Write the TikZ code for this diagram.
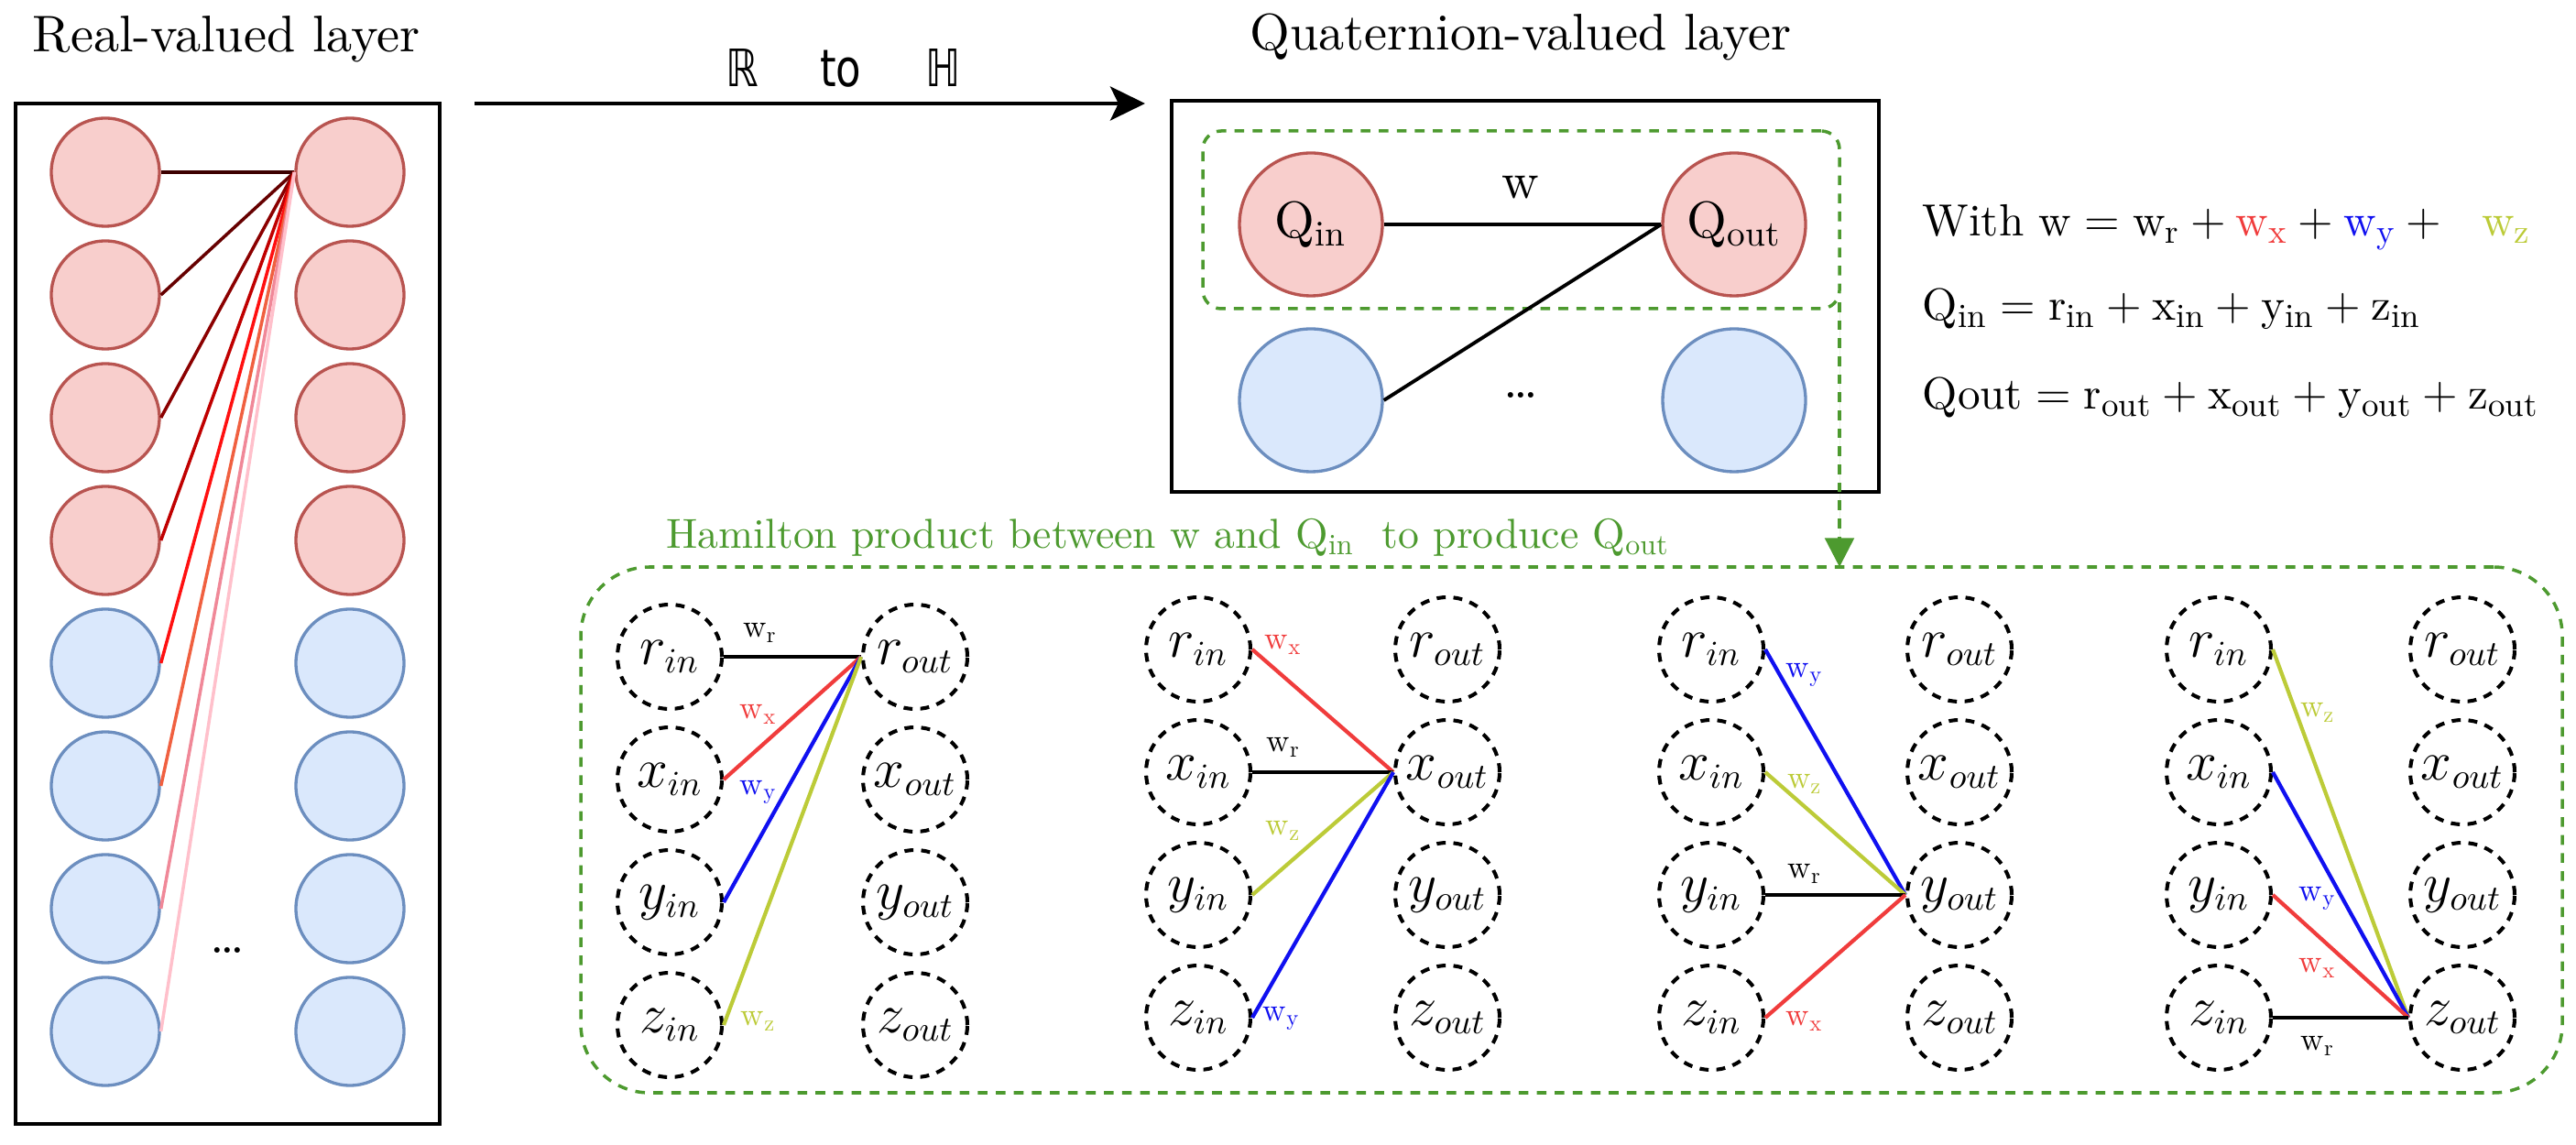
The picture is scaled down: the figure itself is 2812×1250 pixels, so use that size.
\documentclass[tikz,border=0pt]{standalone}
\usepackage{fontspec}
\setmainfont{lmroman10}[Extension=.otf, UprightFont=*-regular, ItalicFont=*-italic, BoldFont=*-bold, BoldItalicFont=*-bolditalic]
\usepackage{xcolor}
\usetikzlibrary{arrows.meta}
\DeclareMathSizes{14}{14}{10.5}{8}
\newfontfamily\djv[FakeStretch=0.8]{DejaVu Sans}
\definecolor{pinkfill}{HTML}{F8CECC}
\definecolor{pinkdraw}{HTML}{B85450}
\definecolor{bluefill}{HTML}{DAE8FC}
\definecolor{bluedraw}{HTML}{6C8EBF}
\definecolor{grn}{HTML}{4D9A2F}
\definecolor{wred}{HTML}{F03C3C}
\definecolor{wblue}{HTML}{1010F0}
\definecolor{wyel}{HTML}{BCCB38}
\definecolor{lc1}{HTML}{3D0000}
\definecolor{lc2}{HTML}{660000}
\definecolor{lc3}{HTML}{8B0000}
\definecolor{lc4}{HTML}{C00000}
\definecolor{lc5}{HTML}{FF1010}
\definecolor{lc6}{HTML}{F06040}
\definecolor{lc7}{HTML}{F08898}
\definecolor{lc8}{HTML}{FFC0CB}
\tikzset{
  rnode/.style={circle, minimum size=11.8mm, inner sep=0pt, fill=pinkfill, draw=pinkdraw, line width=0.95pt},
  bnode/.style={circle, minimum size=11.8mm, inner sep=0pt, fill=bluefill, draw=bluedraw, line width=0.95pt},
  qrnode/.style={rnode, minimum size=15.6mm, font=\fontsize{16}{19}\selectfont},
  qbnode/.style={bnode, minimum size=15.6mm},
  hnode/.style={circle, minimum size=11.4mm, inner sep=0pt, draw=black, line width=1.15pt, dash pattern=on 2.8pt off 2.4pt, font=\fontsize{16}{19}\selectfont},
  conn/.style={line width=1.2pt},
  lconn/.style={line width=1pt},
  elab/.style={font=\fontsize{10}{12}\selectfont, inner sep=1pt},
  title/.style={font=\fontsize{16}{19}\selectfont, anchor=base},
  eqn/.style={font=\fontsize{14}{17}\selectfont, anchor=base west, inner sep=0pt},
  gdash/.style={draw=grn, line width=1pt, dash pattern=on 3pt off 2.6pt},
}
\begin{document}
\begin{tikzpicture}[x=0.1mm, y=-0.1mm]
\useasboundingbox (0,0) rectangle (2812,1250);

% ---------- Real-valued layer ----------
\node[title] (ttlR) at (247,57) {Real-valued layer};
\node[draw, line width=1.4pt, minimum width=46.3mm, minimum height=111.4mm, inner sep=0pt] (lbox) at (248.5,670) {};
\foreach \k in {0,1,2,3} {
  \node[rnode] (L\k) at (115,188+134*\k) {};
  \node[rnode] (R\k) at (382,188+134*\k) {};
}
\foreach \k in {4,5,6,7} {
  \node[bnode] (L\k) at (115,188+134*\k) {};
  \node[bnode] (R\k) at (382,188+134*\k) {};
}
\node[font=\fontsize{16}{19}\selectfont] (ldots) at (248,1038) {\ldots};
\draw[lconn, lc1] (L0.east) -- (R0.west);
\draw[lconn, lc2] (L1.east) -- (R0.west);
\draw[lconn, lc3] (L2.east) -- (R0.west);
\draw[lconn, lc4] (L3.east) -- (R0.west);
\draw[lconn, lc5] (L4.east) -- (R0.west);
\draw[lconn, lc6] (L5.east) -- (R0.west);
\draw[lconn, lc7] (L6.east) -- (R0.west);
\draw[lconn, lc8] (L7.east) -- (R0.west);

% ---------- main arrow ----------
\coordinate (arS) at (518,113);
\coordinate (arE) at (1250,113);
\draw[line width=1.3pt, -{Stealth[length=10.8pt, width=10.5pt, inset=2.5pt]}] (arS) -- (arE);
\node[font=\djv\fontsize{16}{18}\selectfont, anchor=base] (arlab) at (921,95) {ℝ\hspace{19pt}to\hspace{20pt}ℍ};

% ---------- Quaternion-valued layer ----------
\node[title] (ttlQ) at (1660,55) {Quaternion-valued layer};
\node[draw, line width=1.4pt, minimum width=77.2mm, minimum height=42.7mm, inner sep=0pt] (qbox) at (1665,323.5) {};
\node[gdash, rounded corners=2mm, minimum width=69.5mm, minimum height=19.4mm, inner sep=0pt] (grect) at (1660.5,240) {};
\node[qrnode] (qin) at (1431,245) {$\mathrm{Q_{in}}$};
\node[qrnode] (qout) at (1893,245) {$\mathrm{Q_{out}}$};
\node[qbnode] (qb1) at (1431,437) {};
\node[qbnode] (qb2) at (1893,437) {};
\draw[line width=1.1pt] (qin.east) -- (qout.west);
\draw[line width=1.1pt] (qb1.east) -- (qout.west);
\node[font=\fontsize{16}{19}\selectfont] (wlab) at (1660,205) {w};
\node[font=\fontsize{16}{19}\selectfont] (qdots) at (1660,432) {\ldots};

% ---------- equations ----------
\node[eqn] (eq1) at (2098,258) {With $\mathrm{w}=\mathrm{w_r}+\textcolor{wred}{\mathrm{w_x}}+\textcolor{wblue}{\mathrm{w_y}}+\ \ \textcolor{wyel}{\mathrm{w_z}}$};
\node[eqn] (eq2) at (2098,350) {$\mathrm{Q_{in}}=\mathrm{r_{in}}+\mathrm{x_{in}}+\mathrm{y_{in}}+\mathrm{z_{in}}$};
\node[eqn] (eq3) at (2098,447) {$\mathrm{Qout}=\mathrm{r_{out}}+\mathrm{x_{out}}+\mathrm{y_{out}}+\mathrm{z_{out}}$};

% ---------- Hamilton product ----------
\node[gdash, rounded corners=7.5mm, minimum width=216.3mm, minimum height=57.4mm, inner sep=0pt] (hbox) at (1715.5,906) {};
\node[font=\fontsize{13}{15}\selectfont, text=grn, anchor=base west, inner sep=0pt] (hlab) at (727,599) {Hamilton product between w and $\mathrm{Q_{in}}$\ \ to produce $\mathrm{Q_{out}}$};
\coordinate (gS) at (2008,330);
\coordinate (gE) at (2008,619);
\draw[gdash, -{Triangle[length=9pt, width=9pt]}, fill=grn] (gS) -- (gE);

\foreach \g/\xi/\xo/\yo in {1/731/999/717, 2/1308/1580/709, 3/1868/2139/709, 4/2422/2688/709} {
  \foreach \v [count=\k from 0] in {r,x,y,z} {
    \node[hnode] (g\g\v i) at (\xi,\yo+134*\k) {$\v_{in}$};
    \node[hnode] (g\g\v o) at (\xo,\yo+134*\k) {$\v_{out}$};
  }
}
% group 1 -> r_out
\draw[conn, black] (g1ri.east) -- (g1ro.west);
\draw[conn, wred] (g1xi.east) -- (g1ro.west);
\draw[conn, wblue] (g1yi.east) -- (g1ro.west);
\draw[conn, wyel] (g1zi.east) -- (g1ro.west);
\node[elab] (l1r) at (830,691) {$\mathrm{w_r}$};
\node[elab, text=wred] (l1x) at (828,780) {$\mathrm{w_x}$};
\node[elab, text=wblue] (l1y) at (828,865) {$\mathrm{w_y}$};
\node[elab, text=wyel] (l1z) at (828,1115) {$\mathrm{w_z}$};
% group 2 -> x_out
\draw[conn, wred] (g2ri.east) -- (g2xo.west);
\draw[conn, black] (g2xi.east) -- (g2xo.west);
\draw[conn, wyel] (g2yi.east) -- (g2xo.west);
\draw[conn, wblue] (g2zi.east) -- (g2xo.west);
\node[elab, text=wred] (l2x) at (1401,704) {$\mathrm{w_x}$};
\node[elab] (l2r) at (1401,816) {$\mathrm{w_r}$};
\node[elab, text=wyel] (l2z) at (1401,907) {$\mathrm{w_z}$};
\node[elab, text=wblue] (l2y) at (1399,1112) {$\mathrm{w_y}$};
% group 3 -> y_out
\draw[conn, wblue] (g3ri.east) -- (g3yo.west);
\draw[conn, wyel] (g3xi.east) -- (g3yo.west);
\draw[conn, black] (g3yi.east) -- (g3yo.west);
\draw[conn, wred] (g3zi.east) -- (g3yo.west);
\node[elab, text=wblue] (l3y) at (1970,737) {$\mathrm{w_y}$};
\node[elab, text=wyel] (l3z) at (1970,856) {$\mathrm{w_z}$};
\node[elab] (l3r) at (1970,954) {$\mathrm{w_r}$};
\node[elab, text=wred] (l3x) at (1970,1115) {$\mathrm{w_x}$};
% group 4 -> z_out
\draw[conn, wyel] (g4ri.east) -- (g4zo.west);
\draw[conn, wblue] (g4xi.east) -- (g4zo.west);
\draw[conn, wred] (g4yi.east) -- (g4zo.west);
\draw[conn, black] (g4zi.east) -- (g4zo.west);
\node[elab, text=wyel] (l4z) at (2530,778) {$\mathrm{w_z}$};
\node[elab, text=wblue] (l4y) at (2530,981) {$\mathrm{w_y}$};
\node[elab, text=wred] (l4x) at (2530,1057) {$\mathrm{w_x}$};
\node[elab] (l4r) at (2530,1142) {$\mathrm{w_r}$};
\end{tikzpicture}
\end{document}
